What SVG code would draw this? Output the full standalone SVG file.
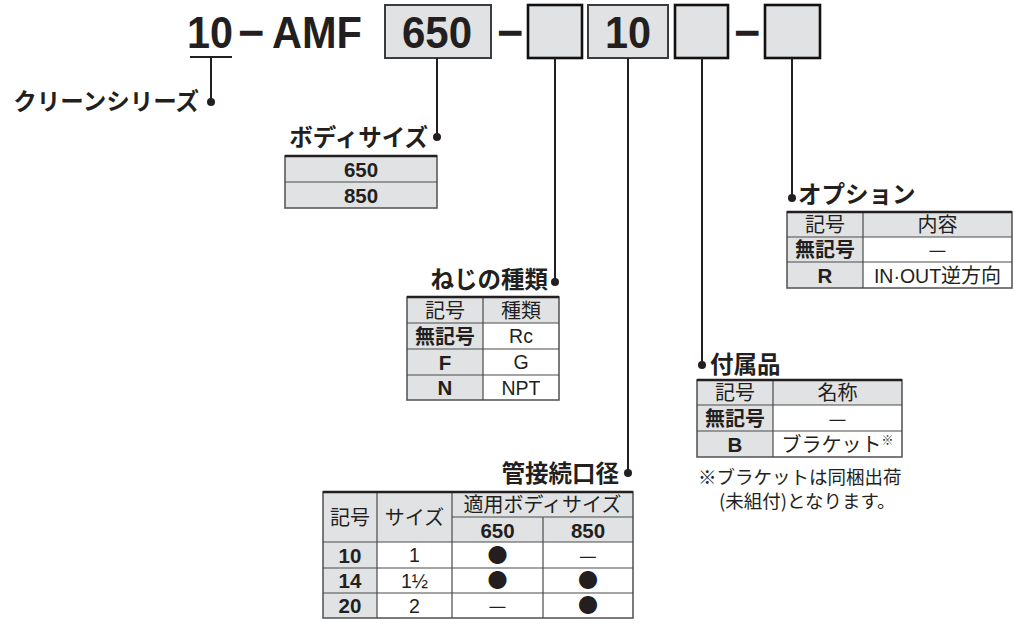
<svg xmlns="http://www.w3.org/2000/svg" width="1014" height="624" viewBox="0 0 1014 624">
<defs>
<style>
.bg{fill:#ffffff}
.gy{fill:#e1e2e3}
.wh{fill:#ffffff}
.ln{stroke:#4a4a4a;stroke-width:1.2;fill:none}
.tp{stroke:#231f20;stroke-width:2.6;fill:none}
.ob{stroke:#5a5a5a;stroke-width:1.6;fill:none}
.con{stroke:#231f20;stroke-width:2;fill:none}
.dot{fill:#231f20}
.big{font-family:"Liberation Sans",Arial,sans-serif;font-weight:700;font-size:45px;fill:#231f20}
.lab{font-family:"Noto Sans CJK JP",sans-serif;font-weight:700;font-size:23.5px;fill:#231f20}
.jp{font-family:"Noto Sans CJK JP",sans-serif;font-size:20px;fill:#231f20;text-anchor:middle}
.jpb{font-family:"Noto Sans CJK JP",sans-serif;font-weight:700;font-size:20px;fill:#231f20;text-anchor:middle}
.mk{font-family:"Noto Sans CJK JP",sans-serif;font-size:20px;fill:#231f20;text-anchor:middle}
.la{font-family:"Liberation Sans",Arial,sans-serif;font-size:19.5px;fill:#231f20;text-anchor:middle}
.lb{font-family:"Liberation Sans",Arial,sans-serif;font-weight:700;font-size:20.5px;fill:#231f20;text-anchor:middle}
.note{font-family:"Noto Sans CJK JP",sans-serif;font-size:18.5px;fill:#231f20}
.box{fill:#e1e2e3;stroke:#3c3c3c;stroke-width:2}
.boxk{fill:#e1e2e3;stroke:#111111;stroke-width:2.6}
</style>
</defs>
<rect class="bg" x="0" y="0" width="1014" height="624"/>

<g id="model-code">
<text class="big" x="187" y="48" textLength="46" lengthAdjust="spacingAndGlyphs">10</text>
<text class="big" x="238" y="48">−</text>
<text class="big" x="272" y="48" textLength="90" lengthAdjust="spacingAndGlyphs">AMF</text>
<rect class="box" x="385" y="5" width="106" height="53"/>
<text class="big" x="402" y="48" textLength="70" lengthAdjust="spacingAndGlyphs">650</text>
<text class="big" x="497" y="48">−</text>
<rect class="boxk" x="528" y="5" width="54" height="53"/>
<rect class="box" x="588" y="5" width="80" height="53"/>
<text class="big" x="605" y="48" textLength="46" lengthAdjust="spacingAndGlyphs">10</text>
<rect class="boxk" x="675" y="5" width="53" height="53"/>
<text class="big" x="734" y="48">−</text>
<rect class="boxk" x="765" y="5" width="55" height="53"/>
</g>

<g id="connectors">
<line class="con" x1="190" y1="57" x2="232" y2="57"/>
<line class="con" x1="211" y1="57" x2="211" y2="102"/>
<circle class="dot" cx="211" cy="102" r="4"/>
<line class="con" x1="437" y1="58" x2="437" y2="137"/>
<circle class="dot" cx="437" cy="137" r="4"/>
<line class="con" x1="555" y1="58" x2="555" y2="282"/>
<circle class="dot" cx="555" cy="282" r="4"/>
<line class="con" x1="628" y1="58" x2="628" y2="473"/>
<circle class="dot" cx="628" cy="473" r="4"/>
<line class="con" x1="702" y1="58" x2="702" y2="365"/>
<circle class="dot" cx="702" cy="365" r="4"/>
<line class="con" x1="792" y1="58" x2="792" y2="198"/>
<circle class="dot" cx="792" cy="198" r="4"/>
</g>

<g id="clean-series">
<text class="lab" x="199" y="110" text-anchor="end">クリーンシリーズ</text>
</g>

<g id="body-size">
<text class="lab" x="428" y="146" text-anchor="end">ボディサイズ</text>
<rect class="gy" x="285" y="156" width="152" height="52"/>
<rect class="ob" x="285" y="156" width="152" height="52"/>
<line class="ln" x1="285" y1="182" x2="437" y2="182"/>
<line class="tp" x1="285" y1="156" x2="437" y2="156"/>
<text class="lb" x="361" y="176.5">650</text>
<text class="lb" x="361" y="202.5">850</text>
</g>

<g id="thread-type">
<text class="lab" x="548" y="288" text-anchor="end">ねじの種類</text>
<rect class="gy" x="407" y="297" width="152" height="103"/>
<rect class="wh" x="483" y="323" width="76" height="77"/>
<rect class="ob" x="407" y="297" width="152" height="103"/>
<line class="ln" x1="483" y1="297" x2="483" y2="400"/>
<line class="ln" x1="407" y1="323" x2="559" y2="323"/>
<line class="ln" x1="407" y1="349" x2="559" y2="349"/>
<line class="ln" x1="407" y1="375" x2="559" y2="375"/>
<line class="tp" x1="407" y1="297" x2="559" y2="297"/>
<text class="jp" x="445" y="317.5">記号</text>
<text class="jp" x="521" y="317.5">種類</text>
<text class="jpb" x="445" y="343.5">無記号</text>
<text class="la" x="521" y="343">Rc</text>
<text class="lb" x="445" y="369.5">F</text>
<text class="la" x="521" y="369">G</text>
<text class="lb" x="445" y="395">N</text>
<text class="la" x="521" y="394.5">NPT</text>
</g>

<g id="port-size">
<text class="lab" x="619" y="482" text-anchor="end">管接続口径</text>
<rect class="gy" x="323" y="492" width="310" height="126"/>
<rect class="wh" x="377" y="542" width="256" height="76"/>
<rect class="ob" x="323" y="492" width="310" height="126"/>
<line class="ln" x1="377" y1="492" x2="377" y2="618"/>
<line class="ln" x1="452" y1="492" x2="452" y2="618"/>
<line class="ln" x1="543" y1="517" x2="543" y2="618"/>
<line class="ln" x1="452" y1="517" x2="633" y2="517"/>
<line class="ln" x1="323" y1="542" x2="633" y2="542"/>
<line class="ln" x1="323" y1="568" x2="633" y2="568"/>
<line class="ln" x1="323" y1="593" x2="633" y2="593"/>
<line class="tp" x1="323" y1="492" x2="633" y2="492"/>
<text class="jp" x="350" y="524.5">記号</text>
<text class="jp" x="414.5" y="524.5">サイズ</text>
<text class="jp" x="542.5" y="512">適用ボディサイズ</text>
<text class="lb" x="497.5" y="537.5">650</text>
<text class="lb" x="588" y="537.5">850</text>
<text class="lb" x="350" y="562.5">10</text>
<text class="la" x="414.5" y="562">1</text>
<text class="mk" x="497.5" y="562.5">●</text>
<text class="mk" x="588" y="562.5">—</text>
<text class="lb" x="350" y="588">14</text>
<text class="la" x="414.5" y="587.5">1½</text>
<text class="mk" x="497.5" y="588">●</text>
<text class="mk" x="588" y="588">●</text>
<text class="lb" x="350" y="613">20</text>
<text class="la" x="414.5" y="612.5">2</text>
<text class="mk" x="497.5" y="613">—</text>
<text class="mk" x="588" y="613">●</text>
</g>

<g id="accessory">
<text class="lab" x="710" y="373">付属品</text>
<rect class="gy" x="697" y="380" width="205" height="77"/>
<rect class="wh" x="773" y="405" width="129" height="52"/>
<rect class="ob" x="697" y="380" width="205" height="77"/>
<line class="ln" x1="773" y1="380" x2="773" y2="457"/>
<line class="ln" x1="697" y1="405" x2="902" y2="405"/>
<line class="ln" x1="697" y1="431" x2="902" y2="431"/>
<line class="tp" x1="697" y1="380" x2="902" y2="380"/>
<text class="jp" x="735" y="400">記号</text>
<text class="jp" x="837.5" y="400">名称</text>
<text class="jpb" x="735" y="425.5">無記号</text>
<text class="mk" x="837.5" y="425.5">—</text>
<text class="lb" x="735" y="451.5">B</text>
<text class="jp" x="837.5" y="451.5">ブラケット<tspan font-size="12" dy="-7">※</tspan></text>
<text class="note" x="698" y="484">※ブラケットは同梱出荷</text>
<text class="note" x="719" y="508">(未組付)となります。</text>
</g>

<g id="option">
<text class="lab" x="798" y="203">オプション</text>
<rect class="gy" x="787" y="212" width="225" height="76"/>
<rect class="wh" x="863" y="237" width="149" height="51"/>
<rect class="ob" x="787" y="212" width="225" height="76"/>
<line class="ln" x1="863" y1="212" x2="863" y2="288"/>
<line class="ln" x1="787" y1="237" x2="1012" y2="237"/>
<line class="ln" x1="787" y1="262" x2="1012" y2="262"/>
<line class="tp" x1="787" y1="212" x2="1012" y2="212"/>
<text class="jp" x="825" y="232">記号</text>
<text class="jp" x="937.5" y="232">内容</text>
<text class="jpb" x="825" y="257">無記号</text>
<text class="mk" x="937.5" y="257">—</text>
<text class="lb" x="825" y="282.5">R</text>
<text class="jp" x="937.5" y="282.5"><tspan font-family="Liberation Sans, Arial, sans-serif" font-size="19.5">IN·OUT</tspan>逆方向</text>
</g>
</svg>
